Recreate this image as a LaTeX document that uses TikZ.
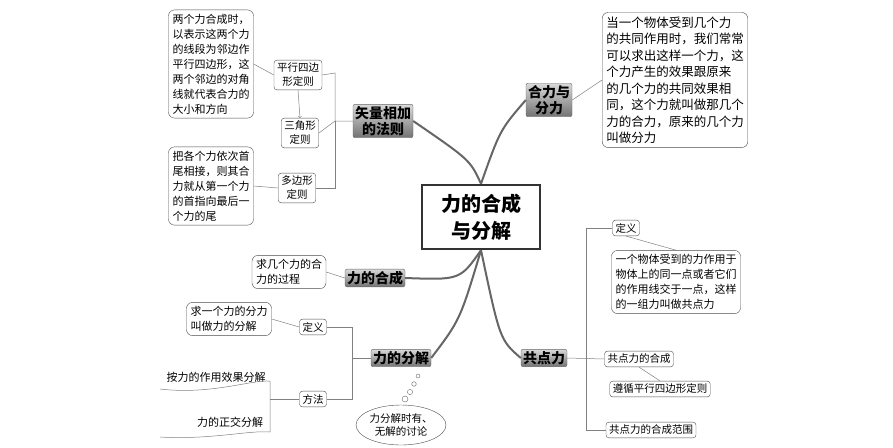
\documentclass[tikz,border=0pt]{standalone}
\usepackage{fontspec}
\setmainfont{Noto Sans CJK SC}
\usetikzlibrary{shapes.geometric,shapes.callouts,positioning}
\tikzset{
    x=1pt, y=-1pt,
    mainsty/.style={draw=black!80,line width=2.5pt,fill=white,minimum width=118pt,minimum height=64pt,align=center,font=\bfseries\fontsize{20}{27}\selectfont},
    topicsty/.style={draw=black!60,rounded corners=2pt,top color=black!15,bottom color=black!55,font=\bfseries\fontsize{14}{16}\selectfont,align=center,inner sep=2pt},
    leafsty/.style={draw=black!70,rounded corners=3pt,fill=white,font=\fontsize{10.5}{14}\selectfont,align=center,inner sep=3pt},
    notesty/.style={draw=black!70,rounded corners=6pt,fill=white,font=\fontsize{11}{15}\selectfont,align=left,inner sep=4pt},
    trunksty/.style={draw=black!60,line width=2pt},
    linksty/.style={draw=black!50,line width=0.5pt},
}
\begin{document}
\begin{tikzpicture}
  \useasboundingbox (0,0) rectangle (893,447);

  % centre and main branches
  \node[mainsty] (core) at (481,217) {力的合成\\与分解};
  \node[topicsty] (vec) at (383,121) {矢量相加\\的法则};
  \node[topicsty] (res) at (549,100) {合力与\\分力};
  \node[topicsty] (com) at (375,278) {力的合成};
  \node[topicsty] (dec) at (401,358) {力的分解};
  \node[topicsty] (con) at (544,358) {共点力};

  \draw[trunksty] (core.north) .. controls (470,160) .. (vec.east);
  \draw[trunksty] (core.north) .. controls (500,130) .. (res.west);
  \draw[trunksty] (core.south) .. controls (460,280) .. (com.east);
  \draw[trunksty] (core.south) .. controls (460,320) .. (dec.east);
  \draw[trunksty] (core.south) .. controls (500,340) .. (con.west);

  % vector addition
  \node[leafsty] (para) at (298,75) {平行四边\\形定则};
  \node[leafsty] (tri) at (300,133) {三角形\\定则};
  \node[leafsty] (poly) at (297,188) {多边形\\定则};
  \node[notesty] (paran) at (211,64) {两个力合成时，\\以表示这两个力\\的线段为邻边作\\平行四边形，这\\两个邻边的对角\\线就代表合力的\\大小和方向};
  \node[notesty] (polyn) at (211,186) {把各个力依次首\\尾相接，则其合\\力就从第一个力\\的首指向最后一\\个力的尾};
  \draw[linksty] (vec.west) -- (335,121) -- (335,73) -- (para.east);
  \draw[linksty] (335,121) -- (tri.east);
  \draw[linksty] (335,121) -- (335,188) -- (poly.east);
  \draw[linksty,->] (para.south) -- (tri.north);
  \draw[linksty] (paran.east) -- (para.west);
  \draw[linksty] (polyn.east) -- (poly.west);

  % resultant and components
  \node[notesty,font=\fontsize{12.5}{16.5}\selectfont] (resn) at (675,80) {当一个物体受到几个力\\的共同作用时，我们常常\\可以求出这样一个力，这\\个力产生的效果跟原来\\的几个力的共同效果相\\同，这个力就叫做那几个\\力的合力，原来的几个力\\叫做分力};
  \draw[linksty] (res.east) -- (resn.west);

  % composition
  \node[notesty] (comn) at (289,272) {求几个力的合\\力的过程};
  \draw[linksty] (comn.east) -- (com.west);

  % decomposition
  \node[leafsty] (ddef) at (313,327) {定义};
  \node[leafsty] (dmet) at (313,399) {方法};
  \node[notesty] (ddefn) at (229,319) {求一个力的分力\\叫做力的分解};
  \node[font=\fontsize{11}{14}\selectfont] (eff) at (216,377) {按力的作用效果分解};
  \node[font=\fontsize{11}{14}\selectfont] (orth) at (230,422) {力的正交分解};
  \draw[linksty] (160,389) .. controls (210,395) and (250,380) .. (270,381) -- (270,432) .. controls (250,430) and (210,440) .. (160,437);
  \draw[linksty] (dec.west) -- (352,358) -- (352,327) -- (ddef.east);
  \draw[linksty] (352,358) -- (352,399) -- (dmet.east);
  \draw[linksty] (ddefn.east) -- (ddef.west);
  \draw[linksty] (270,399) -- (dmet.west);
  \node[draw=black!70,ellipse,fill=white,font=\fontsize{10.5}{13}\selectfont,align=center,minimum width=90pt,minimum height=40pt,inner sep=0pt] (disc) at (401,425) {力分解时有、\\无解的讨论};
  \foreach \px/\py/\r in {418/376/2,414/384/2.3,410/392/2.6,405/399/3}
    \draw[black!60] (\px,\py) circle (\r);

  % concurrent forces
  \node[leafsty] (cdef) at (626,228) {定义};
  \node[notesty] (cdefn) at (676,282) {一个物体受到的力作用于\\物体上的同一点或者它们\\的作用线交于一点，这样\\的一组力叫做共点力};
  \node[leafsty] (ccom) at (639,359) {共点力的合成};
  \node[leafsty] (crule) at (660,389) {遵循平行四边形定则};
  \node[leafsty] (crng) at (651,430) {共点力的合成范围};
  \draw[linksty] (con.east) -- (ccom.west);
  \draw[linksty] (586,359) -- (586,228) -- (cdef.west);
  \draw[linksty] (586,359) -- (586,430) -- (crng.west);
  \draw[linksty] (cdef.south) -- (cdefn.north);
  \draw[linksty] (ccom.south) -- (crule.north);
\end{tikzpicture}
\end{document}
